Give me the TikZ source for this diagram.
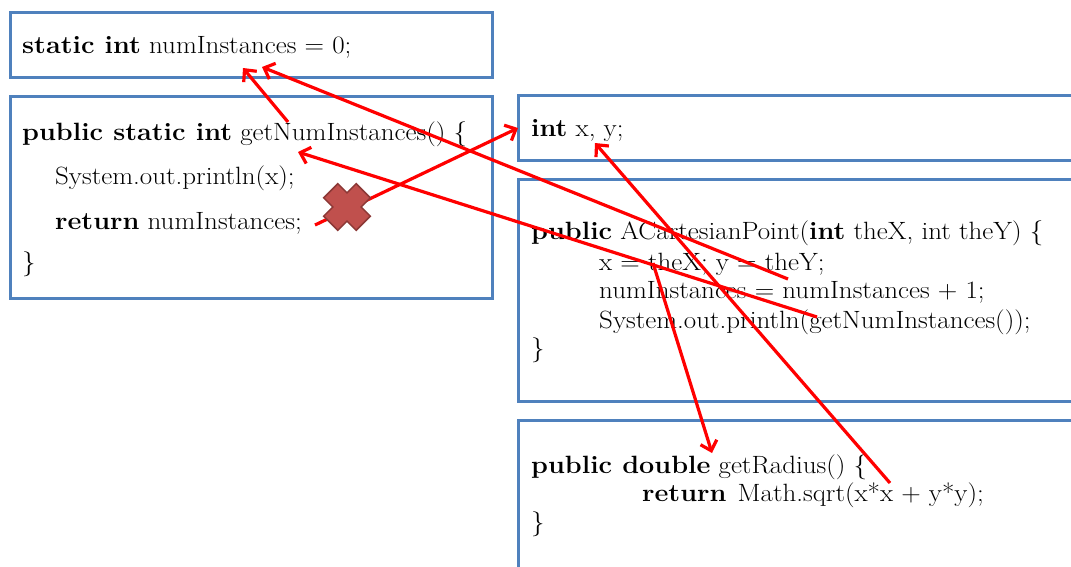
\documentclass[tikz,border=0pt]{standalone}
\usepackage{fontspec}
\setmainfont{Latin Modern Roman}[FakeStretch=1.08]
\usetikzlibrary{arrows.meta}
\definecolor{boxblue}{RGB}{79,129,189}
\definecolor{xfill}{RGB}{192,80,77}
\definecolor{xline}{RGB}{140,56,54}
\begin{document}
\begin{tikzpicture}[x=1pt,y=-1pt,
  code/.style={anchor=base west, inner sep=0pt, font=\fontsize{25}{30}\selectfont},
  boxline/.style={draw=boxblue, line width=3pt},
  ref/.style={draw=red, line width=3.2pt, -{Straight Barb[length=9pt,width=17pt]}},
  xmark/.style={fill=xfill, draw=xline, line width=1.5pt, line join=miter}
]
\useasboundingbox (0,0) rectangle (1071,566);
\fill[white] (0,0) rectangle (1071,566);
\begin{scope}
\clip (0,0) rectangle (1071,566);
\draw[boxline] (10,12) rectangle (492,77);
\draw[boxline] (10,96) rectangle (492,298);
\draw[boxline] (1080,95) -- (518,95) -- (518,160) -- (1080,160);
\draw[boxline] (1080,179) -- (518,179) -- (518,401) -- (1080,401);
\draw[boxline] (1080,420) -- (518,420) -- (518,580);
\end{scope}

\node[code] (t1) at (22,53) {\textbf{static int} numInstances = 0;};
\node[code] (g1) at (22,140) {\textbf{public static int} getNumInstances() \{};
\node[code] (g2) at (55,184) {System.out.println(x);};
\node[code] (g3) at (55,229) {\textbf{return} numInstances;};
\node[code] (g4) at (22,270) {\}};
\node[code] (v1) at (531,136) {\textbf{int} x, y;};
\node[code] (c1) at (531,239) {\textbf{public} ACartesianPoint(\textbf{int} theX, int theY) \{};
\node[code] (c2) at (599,270) {x = theX; y = theY;};
\node[code] (c3) at (599,298) {numInstances = numInstances + 1;};
\node[code] (c4) at (599,328) {System.out.println(getNumInstances());};
\node[code] (c5) at (531,356) {\}};
\node[code] (r1) at (531,473) {\textbf{public double} getRadius() \{};
\node[code] (r2) at (642,501) {\textbf{return}\hspace{0.45em}Math.sqrt(x*x + y*y);};
\node[code] (r3) at (531,530) {\}};

\coordinate (a1s) at (288,122); \coordinate (a1e) at (243,68);
\coordinate (a2s) at (788,279); \coordinate (a2e) at (262,67);
\coordinate (a3s) at (817,317); \coordinate (a3e) at (298,152);
\coordinate (a4s) at (315,225); \coordinate (a4e) at (518,128);
\coordinate (a5s) at (890,483); \coordinate (a5e) at (595,143);
\coordinate (a6s) at (653,263); \coordinate (a6e) at (712,453);

\draw[ref] (a1s) -- (a1e);
\draw[ref] (a2s) -- (a2e);
\draw[ref] (a3s) -- (a3e);
\draw[ref] (a4s) -- (a4e);
\draw[ref] (a5s) -- (a5e);
\draw[ref] (a6s) -- (a6e);

\draw[xmark, shift={(347,207)}, rotate=45]
  (-10,-23) -- (10,-23) -- (10,-10) -- (23,-10) -- (23,10) -- (10,10) -- (10,23)
  -- (-10,23) -- (-10,10) -- (-23,10) -- (-23,-10) -- (-10,-10) -- cycle;
\end{tikzpicture}
\end{document}
